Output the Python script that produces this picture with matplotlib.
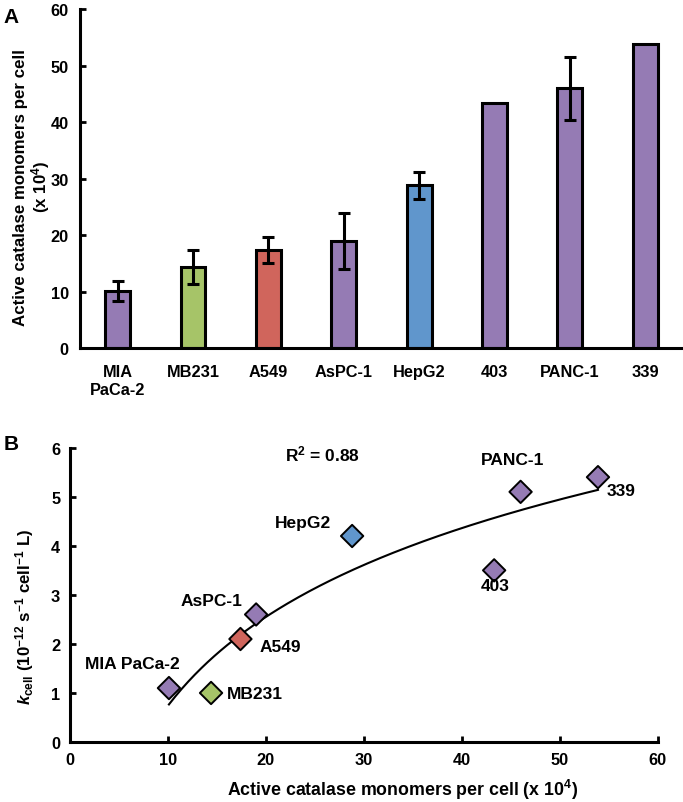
import numpy as np
import matplotlib
matplotlib.use("Agg")
import matplotlib.pyplot as plt

plt.rcParams['font.family'] = ['Liberation Sans', 'DejaVu Sans']
plt.rcParams['font.weight'] = 'bold'
plt.rcParams['mathtext.fontset'] = 'custom'
plt.rcParams['mathtext.rm'] = 'Liberation Sans:bold'
plt.rcParams['mathtext.it'] = 'Liberation Sans:italic:bold'
plt.rcParams['mathtext.bf'] = 'Liberation Sans:bold'

# data
cells = ["MIA\nPaCa-2", "MB231", "A549", "AsPC-1", "HepG2", "403", "PANC-1", "339"]
scatter_names = ["MIA PaCa-2", "MB231", "A549", "AsPC-1", "HepG2", "403", "PANC-1", "339"]
monomers = [10.1, 14.4, 17.4, 19.0, 28.8, 43.3, 46.0, 53.9]
monomers_err = [1.8, 3.0, 2.3, 5.0, 2.4, 0, 5.6, 0]
kcell = [1.1, 1.0, 2.1, 2.6, 4.2, 3.5, 5.1, 5.4]

purple = "#957BB4"
green = "#A6C468"
red = "#D0655C"
blue = "#6096CC"
colors = [purple, green, red, purple, blue, purple, purple, purple]

# label positions for panel B (data coords)
lab_x = [6.4, 18.9, 21.5, 14.4, 23.8, 43.4, 45.2, 56.3]
lab_y = [1.61, 0.98, 1.94, 2.88, 4.47, 3.2, 5.76, 5.12]

fig = plt.figure(figsize=(6.83, 8.03), dpi=100)

# ---- panel A ----
ax1 = fig.add_axes([0.117, 0.565, 0.883, 0.4225])
x = np.arange(len(cells))
ax1.bar(x, monomers, width=0.33, color=colors, edgecolor='black', linewidth=2.2, zorder=2)
err_idx = [i for i, e in enumerate(monomers_err) if e > 0]
ax1.errorbar([x[i] for i in err_idx], [monomers[i] for i in err_idx],
             yerr=[monomers_err[i] for i in err_idx], fmt='none', ecolor='black',
             elinewidth=2.2, capsize=4.5, capthick=2.2, zorder=3)
ax1.set_xlim(-0.5, 7.5)
ax1.set_ylim(0, 60)
ax1.set_yticks(range(0, 61, 10))
ax1.set_xticks(x)
ax1.set_xticklabels(cells, fontsize=11.8, fontweight='bold', linespacing=1.3)
ax1.tick_params(axis='x', length=0, pad=11)
ax1.tick_params(axis='y', direction='in', length=4, width=2, labelsize=11.8, pad=8)
ax1.spines['top'].set_visible(False)
ax1.spines['right'].set_visible(False)
ax1.spines['left'].set_linewidth(2.2)
ax1.spines['bottom'].set_linewidth(2.2)
ax1.set_ylabel("Active catalase monomers per cell\n(x 10$^{4}$)", fontsize=12.2,
               fontweight='bold', linespacing=1.05)
ax1.yaxis.set_label_coords(-0.047, 0.478)
fig.text(0.005, 0.978, "A", fontsize=15, fontweight='bold', va='center')

# ---- panel B ----
ax2 = fig.add_axes([0.1025, 0.0747, 0.8605, 0.3665])
ax2.scatter(monomers, kcell, marker='D', s=130, c=colors, edgecolors='black',
            linewidths=1.4, zorder=3)
a, b = np.polyfit(np.log(monomers), kcell, 1)
xf = np.linspace(min(monomers), max(monomers), 200)
ax2.plot(xf, a * np.log(xf) + b, color='black', linewidth=1.5, zorder=2)
for name, lx, ly in zip(scatter_names, lab_x, lab_y):
    ax2.text(lx, ly, name, fontsize=12.5, fontweight='bold', ha='center', va='center')
ax2.text(25.8, 5.88, "R$^{2}$ = 0.88", fontsize=12.5, fontweight='bold', ha='center', va='center')
ax2.set_xlim(0, 60)
ax2.set_ylim(0, 6)
ax2.set_xticks(range(0, 61, 10))
ax2.set_yticks(range(0, 7))
ax2.tick_params(axis='both', direction='in', length=4, width=2, labelsize=11.8)
ax2.tick_params(axis='x', pad=7)
ax2.tick_params(axis='y', pad=7)
ax2.spines['top'].set_visible(False)
ax2.spines['right'].set_visible(False)
ax2.spines['left'].set_linewidth(2.2)
ax2.spines['bottom'].set_linewidth(2.2)
ax2.set_xlabel("Active catalase monomers per cell (x 10$^{4}$)", fontsize=12.8,
               fontweight='bold')
ax2.xaxis.set_label_coords(0.565, -0.118)
ax2.set_ylabel(r"$k_{\mathrm{cell}}$ (10$^{-12}$ s$^{-1}$ cell$^{-1}$ L)", fontsize=12.2,
               fontweight='bold')
ax2.yaxis.set_label_coords(-0.058, 0.43)
fig.text(0.005, 0.447, "B", fontsize=15, fontweight='bold', va='center')

fig.savefig("out.png", dpi=100)
